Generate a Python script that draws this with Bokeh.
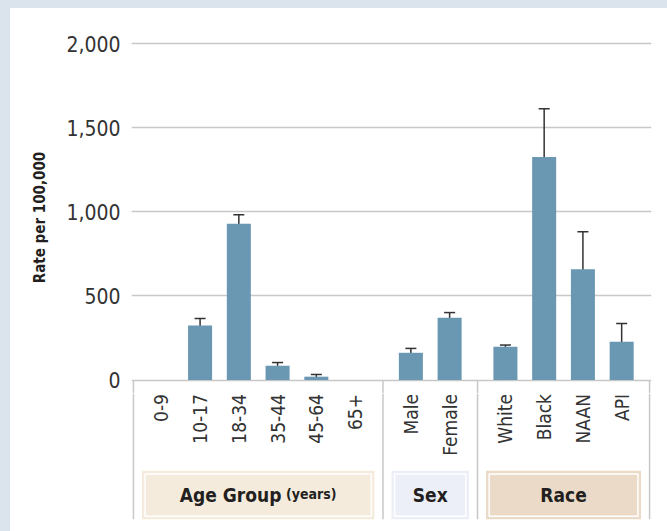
from bokeh.plotting import figure
from bokeh.layouts import column
from bokeh.models import (ColumnDataSource, FixedTicker, NumeralTickFormatter, Whisker,
                          TeeHead, Range1d)
from bokeh.core.properties import value
from bokeh.embed import file_html
from bokeh.resources import INLINE
import math

# ---- data ----
categories = ["0-9", "10-17", "18-34", "35-44", "45-64", "65+",
              "Male", "Female",
              "White", "Black", "NAAN", "API"]
groups = ["age"] * 6 + ["sex"] * 2 + ["race"] * 4
rates = [0, 324, 929, 85, 20, 0, 162, 370, 198, 1326, 659, 227]
lower = [None, 263, 866, 45, 10, None, 131, 322, 158, 1086, 469, 140]
upper = [None, 366, 983, 104, 33, None, 188, 401, 208, 1612, 882, 336]
group_order = ["age", "sex", "race"]
group_titles = {"age": "Age Group", "sex": "Sex", "race": "Race"}
group_subtitles = {"age": "(years)", "sex": "", "race": ""}
group_colors = {"age": "#f5ebdc", "sex": "#eceff8", "race": "#eadac7"}
y_ticks = [0, 500, 1000, 1500, 2000]
y_title = "Rate per 100,000"

# ---- styling constants ----
FONT = "DejaVu Sans Condensed"
BAR_COLOR = "#6a98b3"
LINE_GRAY = "#c8c8c8"
TEXT = "#231f20"
PAD = 0.72
Y_SPLIT = -80
Y_TOP = 2012
Y_MIN = -829
W = 657

# ---- compute category positions ----
xs = []
dividers = [0.0]
spans = {}
edge = 0.0
for g in group_order:
    n = groups.count(g)
    start = edge + PAD
    xs += [start + i for i in range(n)]
    spans[g] = (start - 0.5, start + n - 1 + 0.5)
    edge = start + n - 1 + PAD
    dividers.append(edge)

x_range = Range1d(-0.05, edge + 0.05)

# ---------------- top: bars ----------------
p = figure(width=W, height=385, output_backend="svg", toolbar_location=None,
           x_range=x_range, y_range=Range1d(Y_SPLIT, Y_TOP),
           x_axis_location=None, min_border_left=121, min_border_right=16,
           min_border_top=33, min_border_bottom=0,
           background_fill_color="white", border_fill_color="white")
p.outline_line_color = None
p.xgrid.visible = False
p.ygrid.ticker = FixedTicker(ticks=y_ticks)
p.ygrid.grid_line_color = LINE_GRAY
p.ygrid.grid_line_width = 1.5

ax = p.yaxis[0]
ax.ticker = FixedTicker(ticks=y_ticks)
ax.formatter = NumeralTickFormatter(format="0,0")
ax.axis_line_color = None
ax.major_tick_line_color = None
ax.major_tick_out = 0
ax.major_tick_in = 0
ax.minor_tick_line_color = None
ax.minor_tick_out = 0
ax.major_label_text_font = FONT
ax.major_label_text_font_size = "21px"
ax.major_label_text_color = "#333333"
ax.major_label_standoff = 11
ax.axis_label = y_title
ax.axis_label_text_font = FONT
ax.axis_label_text_font_size = "15px"
ax.axis_label_text_font_style = "bold"
ax.axis_label_text_color = TEXT
ax.axis_label_standoff = 14

src = ColumnDataSource(dict(x=xs, rate=rates, cat=categories))
p.vbar(x="x", top="rate", bottom=0, width=0.62, fill_color=BAR_COLOR,
       line_color=None, source=src)

ex, el, eu = [], [], []
for x, lo, hi in zip(xs, lower, upper):
    if lo is not None:
        ex.append(x); el.append(lo); eu.append(hi)
esrc = ColumnDataSource(dict(x=ex, lower=el, upper=eu))
p.add_layout(Whisker(base="x", lower="lower", upper="upper", source=esrc,
                     line_color="#333333", line_width=1.5,
                     upper_head=TeeHead(size=11, line_color="#333333", line_width=1.5),
                     lower_head=TeeHead(size=11, line_color="#333333", line_width=1.5)))
p.segment(x0=dividers, y0=0, x1=dividers, y1=Y_SPLIT,
          line_color=LINE_GRAY, line_width=1.5)

# ---------------- bottom: category labels and group boxes ----------------
q = figure(width=W, height=138, output_backend="svg", toolbar_location=None,
           x_range=x_range, y_range=Range1d(Y_MIN, Y_SPLIT),
           x_axis_location=None, y_axis_location=None,
           min_border_left=121, min_border_right=16, min_border_top=0, min_border_bottom=12,
           background_fill_color="white", border_fill_color="white")
q.outline_line_color = None
q.grid.visible = False

BOX_TOP = -539
box_src = ColumnDataSource(dict(
    left=[spans[g][0] for g in group_order],
    right=[spans[g][1] for g in group_order],
    color=[group_colors[g] for g in group_order]))
q.quad(left="left", right="right", top=BOX_TOP, bottom=Y_MIN, fill_color="color",
       line_color=None, source=box_src)
ix, iy = 0.08, 20
q.quad(left=[spans[g][0] + ix for g in group_order],
       right=[spans[g][1] - ix for g in group_order],
       top=BOX_TOP - iy, bottom=Y_MIN + iy, fill_color=None,
       line_color="white", line_width=1.5)

q.segment(x0=dividers, y0=Y_SPLIT, x1=dividers, y1=Y_MIN,
          line_color=LINE_GRAY, line_width=1.5)

q.text(x="x", y=-83, text="cat", angle=math.pi / 2, text_align="right",
       text_baseline="middle", text_font=value(FONT), text_font_size="19px",
       text_color="#333333", source=src)

label_y = (BOX_TOP + Y_MIN) / 2
for g in group_order:
    cx = (spans[g][0] + spans[g][1]) / 2
    if group_subtitles[g]:
        q.text(x=[cx + 0.6], y=[label_y], text=[group_titles[g]], text_align="right",
               text_baseline="middle", text_font=value(FONT), text_font_size="19px",
               text_font_style="bold", text_color=TEXT)
        q.text(x=[cx + 0.72], y=[label_y + 6], text=[group_subtitles[g]], text_align="left",
               text_baseline="middle", text_font=value(FONT), text_font_size="14px",
               text_font_style="bold", text_color=TEXT)
    else:
        q.text(x=[cx], y=[label_y], text=[group_titles[g]], text_align="center",
               text_baseline="middle", text_font=value(FONT), text_font_size="19px",
               text_font_style="bold", text_color=TEXT)

layout = column(p, q, spacing=0)
html = file_html(layout, INLINE)
html = html.replace(
    "</head>",
    "<style>body{background:#ffffff;border-left:10px solid #dbe4ec;"
    "border-top:8px solid #dbe4ec;}</style></head>", 1)
open("out.html", "w").write(html)
